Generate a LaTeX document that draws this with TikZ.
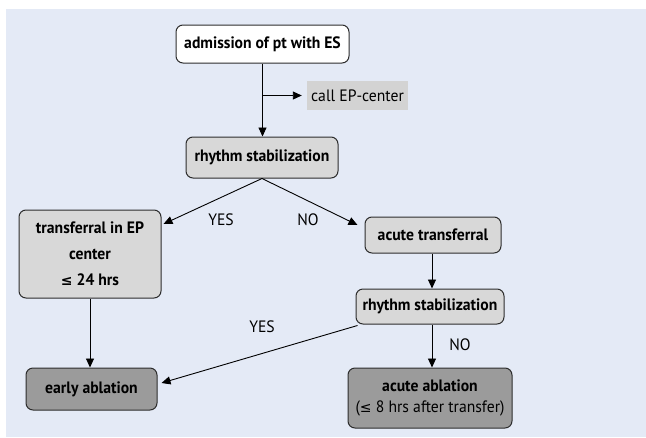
\documentclass[tikz,border=0pt]{standalone}
\usepackage{fontspec}
\setmainfont{PT Sans}[FakeStretch=0.95]
\newfontfamily\symf{DejaVu Sans}
\newcommand{\leqsym}{{\symf\fontsize{14}{14}\selectfont ≤}}
\usetikzlibrary{arrows.meta}
\definecolor{bgc}{RGB}{228,234,246}
\definecolor{lightbox}{RGB}{216,216,216}
\definecolor{darkbox}{RGB}{155,155,155}
\definecolor{callbox}{RGB}{211,211,211}
\definecolor{edge}{RGB}{45,45,45}
\begin{document}
\begin{tikzpicture}[x=1pt,y=-1pt,
  box/.style={draw=edge, line width=1pt, rounded corners=7pt, inner sep=0pt,
    font=\bfseries\fontsize{16.5}{21}\selectfont, align=center},
  arr/.style={-{Triangle[length=9pt,width=8pt]}, line width=0.9pt, draw=black},
  lbl/.style={font=\fontsize{16.5}{20}\selectfont, inner sep=0pt}]
\useasboundingbox (0,0) rectangle (646,437);
\fill[bgc] (6,9) rectangle (646,437);

\node[box, fill=white, minimum width=173pt, minimum height=38pt] (adm) at (262.5,44) {admission of pt with ES};
\node[fill=callbox, minimum width=101pt, minimum height=29pt, inner sep=0pt, font=\fontsize{16.5}{20}\selectfont] (call) at (357.5,95.5) {call EP-center};
\node[box, fill=lightbox, minimum width=152pt, minimum height=41pt] (rs1) at (262,157.5) {rhythm stabilization};
\node[box, fill=lightbox, minimum width=142pt, minimum height=88pt, font=\bfseries\fontsize{16.5}{26}\selectfont] (tr) at (90,254) {transferral in EP\\center\\\leqsym{} 24 hrs};
\node[box, fill=lightbox, minimum width=136pt, minimum height=36pt] (at) at (433,235) {acute transferral};
\node[box, fill=lightbox, minimum width=148pt, minimum height=35pt] (rs2) at (430,306.5) {rhythm stabilization};
\node[box, fill=darkbox, minimum width=131pt, minimum height=42pt] (ea) at (91.5,389) {early ablation};
\node[box, fill=darkbox, minimum width=164pt, minimum height=60pt] (aa) at (430,398) {acute ablation\\\mdseries(\leqsym{} 8 hrs after transfer)};

\coordinate (br) at (adm.south |- call.west);
\draw[arr] (adm.south) -- (adm.south |- rs1.north);
\draw[arr] (br) -- ([xshift=-5pt]call.west);
\draw[arr] (rs1.south) -- ([xshift=2pt,yshift=30pt]tr.east);
\draw[arr] (rs1.south) -- ([xshift=-7pt,yshift=10pt]at.west);
\node[lbl] (yes1) at (221,220) {YES};
\node[lbl] (no1) at (308,220) {NO};
\draw[arr] (tr.south) -- (tr.south |- ea.north);
\coordinate (x2) at (432,0);
\draw[arr] (x2 |- at.south) -- (x2 |- rs2.north);
\draw[arr] (x2 |- rs2.south) -- (x2 |- aa.north);
\draw[arr] ([xshift=2pt,yshift=-1pt]rs2.south west) -- ([xshift=4pt,yshift=6pt]ea.east);
\node[lbl] (yes2) at (262,327) {YES};
\node[lbl] (no2) at (460,345) {NO};
\end{tikzpicture}
\end{document}
